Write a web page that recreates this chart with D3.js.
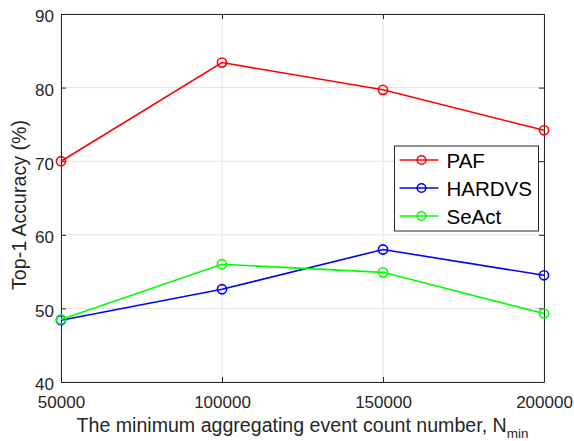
<!DOCTYPE html>
<html>
<head>
<meta charset="utf-8">
<script src="https://cdn.jsdelivr.net/npm/d3@7"></script>
<style>
  html, body { margin: 0; padding: 0; background: #fff; }
  svg { display: block; font-family: "Liberation Sans", Arial, "Noto Sans CJK SC", sans-serif; }
</style>
</head>
<body>
<div id="root"></div>
<script>
// chart values
const xValues = [50000, 100000, 150000, 200000];
const yTicks = [40, 50, 60, 70, 80, 90];
const seriesNames = ["PAF", "HARDVS", "SeAct"];
const seriesColors = ["#ff0000", "#0000ff", "#00ff00"];
const pafValues = [70.0, 83.4, 79.7, 74.2];
const hardvsValues = [48.4, 52.6, 58.0, 54.5];
const seactValues = [48.5, 56.0, 54.9, 49.3];

const width = 574;
const height = 441;
const margins = { top: 14, right: 30, bottom: 59, left: 61 };
const axisColor = "#262626";
const gridColor = "#e3e3e3";

const series = [pafValues, hardvsValues, seactValues].map((vals, i) => ({
  name: seriesNames[i],
  color: seriesColors[i],
  points: vals.map((v, j) => [xValues[j], v])
}));

const svg = d3
  .select("#root")
  .append("svg")
  .attr("width", width)
  .attr("height", height);

const plotW = width - margins.left - margins.right;
const plotH = height - margins.top - margins.bottom;

const xScale = d3.scaleLinear().domain([50000, 200000]).range([0, plotW]);
const yScale = d3.scaleLinear().domain([40, 90]).range([plotH, 0]);

const plot = svg
  .append("g")
  .attr("transform", `translate(${margins.left}, ${margins.top})`);

// grid
plot
  .append("g")
  .selectAll("line")
  .data(xValues)
  .join("line")
  .attr("x1", (d) => xScale(d))
  .attr("x2", (d) => xScale(d))
  .attr("y1", 0)
  .attr("y2", plotH)
  .attr("stroke", gridColor)
  .attr("stroke-width", 1);
plot
  .append("g")
  .selectAll("line")
  .data(yTicks)
  .join("line")
  .attr("x1", 0)
  .attr("x2", plotW)
  .attr("y1", (d) => yScale(d))
  .attr("y2", (d) => yScale(d))
  .attr("stroke", gridColor)
  .attr("stroke-width", 1);

// axes with inward ticks, matlab style box
const tickLen = 5;
const xAxis = d3.axisBottom(xScale).tickValues(xValues).tickSizeInner(-tickLen).tickSizeOuter(0).tickPadding(14).tickFormat(d3.format("d"));
const xAxisTop = d3.axisTop(xScale).tickValues(xValues).tickSizeInner(-tickLen).tickSizeOuter(0).tickFormat("");
const yAxis = d3.axisLeft(yScale).tickValues(yTicks).tickSizeInner(-tickLen).tickSizeOuter(0).tickPadding(7);
const yAxisRight = d3.axisRight(yScale).tickValues(yTicks).tickSizeInner(-tickLen).tickSizeOuter(0).tickFormat("");

const styleAxis = (g) => {
  g.select(".domain").attr("stroke", axisColor).attr("stroke-width", 1);
  g.selectAll(".tick line").attr("stroke", axisColor).attr("stroke-width", 1);
  g.selectAll(".tick text").attr("fill", axisColor).attr("font-size", 17);
  g.attr("font-family", "inherit");
};

plot.append("g").attr("transform", `translate(0, ${plotH})`).call(xAxis).call(styleAxis);
plot.append("g").call(xAxisTop).call(styleAxis);
plot.append("g").call(yAxis).call(styleAxis)
  .selectAll(".tick text").attr("dy", "0.46em");
plot.append("g").attr("transform", `translate(${plotW}, 0)`).call(yAxisRight).call(styleAxis);

// lines and markers
const line = d3
  .line()
  .x((d) => xScale(d[0]))
  .y((d) => yScale(d[1]));

series.forEach((s) => {
  plot
    .append("path")
    .datum(s.points)
    .attr("fill", "none")
    .attr("stroke", s.color)
    .attr("stroke-width", 1.6)
    .attr("d", line);
  plot
    .append("g")
    .selectAll("circle")
    .data(s.points)
    .join("circle")
    .attr("cx", (d) => xScale(d[0]))
    .attr("cy", (d) => yScale(d[1]))
    .attr("r", 4.6)
    .attr("fill", "none")
    .attr("stroke", s.color)
    .attr("stroke-width", 1.6);
});

// legend
const legend = svg.append("g").attr("transform", "translate(394.5, 146)");
legend
  .append("rect")
  .attr("width", 144)
  .attr("height", 85)
  .attr("fill", "#fff")
  .attr("stroke", axisColor)
  .attr("stroke-width", 1);
series.forEach((s, i) => {
  const ly = 14 + i * 28;
  const item = legend.append("g").attr("transform", `translate(0, ${ly})`);
  item.append("line").attr("x1", 5).attr("x2", 44).attr("y1", 0).attr("y2", 0)
    .attr("stroke", s.color).attr("stroke-width", 1.6);
  item.append("circle").attr("cx", 27).attr("cy", 0).attr("r", 4.3)
    .attr("fill", "none").attr("stroke", s.color).attr("stroke-width", 1.6);
  item.append("text").attr("x", 52).attr("y", 7.5)
    .attr("font-size", 20.5).attr("fill", "#000").text(s.name);
});

// axis labels
const xLabel = svg
  .append("text")
  .attr("x", margins.left + plotW / 2)
  .attr("y", 432)
  .attr("text-anchor", "middle")
  .attr("font-size", 19.6)
  .attr("fill", axisColor);
xLabel.append("tspan").text("The minimum aggregating event count number, N");
xLabel.append("tspan").attr("dy", 5.5).attr("font-size", 13.5).text("min");

const yLabelX = 26;
const yLabelY = 205;
svg
  .append("text")
  .attr("x", yLabelX)
  .attr("y", yLabelY)
  .attr("text-anchor", "middle")
  .attr("font-size", 19.6)
  .attr("fill", axisColor)
  .attr("transform", `rotate(-90, ${yLabelX}, ${yLabelY})`)
  .text("Top-1 Accuracy (%)");
</script>
</body>
</html>
